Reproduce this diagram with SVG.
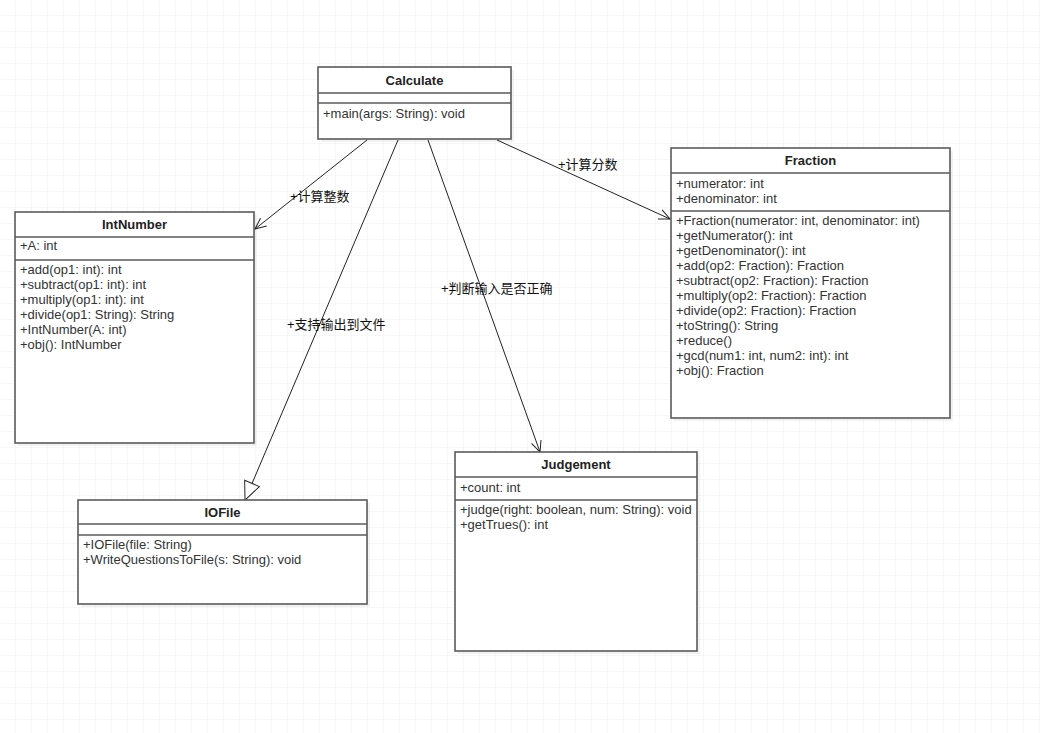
<svg xmlns="http://www.w3.org/2000/svg" width="1040" height="733" viewBox="0 0 1040 733">
<style>
.box{fill:#fff;stroke:#5a5a5a;stroke-width:1.6}
.sep{stroke:#5a5a5a;stroke-width:1.6}
.shadow{fill:#000;opacity:0.05}
.title{font-family:"Liberation Sans",Arial,sans-serif;font-size:13px;font-weight:bold;fill:#222;text-anchor:middle}
.t{font-family:"Liberation Sans",Arial,sans-serif;font-size:13px;fill:#333}
.lbl{font-family:"Liberation Sans","Noto Sans CJK SC",sans-serif;font-size:13px;fill:#111}
.conn{fill:none;stroke:#222;stroke-width:1}
</style>
<defs>
<pattern id="grid" width="16" height="16" patternUnits="userSpaceOnUse" x="0" y="0">
<path d="M16 0V16M0 16H16" fill="none" stroke="#efefef" stroke-width="1"/>
</pattern>
<marker id="open" markerWidth="14" markerHeight="14" refX="12" refY="7" orient="auto" markerUnits="userSpaceOnUse">
<path d="M1 2 L12 7 L1 12" fill="none" stroke="#222" stroke-width="1"/>
</marker>
<marker id="tri" markerWidth="22" markerHeight="20" refX="19" refY="10" orient="auto" markerUnits="userSpaceOnUse">
<path d="M1 2 L19 10 L1 18 Z" fill="#fff" stroke="#222" stroke-width="1"/>
</marker>
</defs>
<rect width="1040" height="733" fill="#fff"/>
<rect width="1040" height="733" fill="url(#grid)"/>

<g id="connectors">
<line class="conn" x1="367" y1="140" x2="255" y2="229" marker-end="url(#open)"/>
<line class="conn" x1="398" y1="140" x2="245" y2="500" marker-end="url(#tri)"/>
<line class="conn" x1="428" y1="140" x2="540" y2="452" marker-end="url(#open)"/>
<line class="conn" x1="497" y1="140" x2="670" y2="219" marker-end="url(#open)"/>
<text class="lbl" x="290" y="201">+计算整数</text>
<text class="lbl" x="287" y="329">+支持输出到文件</text>
<text class="lbl" x="441" y="293">+判断输入是否正确</text>
<text class="lbl" x="558" y="169">+计算分数</text>
</g>

<g id="Calculate">
<rect class="shadow" x="321" y="70" width="193" height="72"/>
<rect class="box" x="318" y="67" width="193" height="72"/>
<line class="sep" x1="318" y1="93" x2="511" y2="93"/>
<line class="sep" x1="318" y1="103" x2="511" y2="103"/>
<text class="title" x="414.5" y="85">Calculate</text>
<text class="t" x="323" y="118">+main(args: String): void</text>
</g>

<g id="IntNumber">
<rect class="shadow" x="18" y="215" width="239" height="231"/>
<rect class="box" x="15" y="212" width="239" height="231"/>
<line class="sep" x1="15" y1="237" x2="254" y2="237"/>
<line class="sep" x1="15" y1="260" x2="254" y2="260"/>
<text class="title" x="134.5" y="229">IntNumber</text>
<text class="t" x="20" y="250">+A: int</text>
<text class="t" x="20" y="274">+add(op1: int): int</text>
<text class="t" x="20" y="289">+subtract(op1: int): int</text>
<text class="t" x="20" y="304">+multiply(op1: int): int</text>
<text class="t" x="20" y="319">+divide(op1: String): String</text>
<text class="t" x="20" y="334">+IntNumber(A: int)</text>
<text class="t" x="20" y="349">+obj(): IntNumber</text>
</g>

<g id="Fraction">
<rect class="shadow" x="674" y="151" width="279" height="270"/>
<rect class="box" x="671" y="148" width="279" height="270"/>
<line class="sep" x1="671" y1="173" x2="950" y2="173"/>
<line class="sep" x1="671" y1="211" x2="950" y2="211"/>
<text class="title" x="810.5" y="165">Fraction</text>
<text class="t" x="676" y="188">+numerator: int</text>
<text class="t" x="676" y="203">+denominator: int</text>
<text class="t" x="676" y="225">+Fraction(numerator: int, denominator: int)</text>
<text class="t" x="676" y="240">+getNumerator(): int</text>
<text class="t" x="676" y="255">+getDenominator(): int</text>
<text class="t" x="676" y="270">+add(op2: Fraction): Fraction</text>
<text class="t" x="676" y="285">+subtract(op2: Fraction): Fraction</text>
<text class="t" x="676" y="300">+multiply(op2: Fraction): Fraction</text>
<text class="t" x="676" y="315">+divide(op2: Fraction): Fraction</text>
<text class="t" x="676" y="330">+toString(): String</text>
<text class="t" x="676" y="345">+reduce()</text>
<text class="t" x="676" y="360">+gcd(num1: int, num2: int): int</text>
<text class="t" x="676" y="375">+obj(): Fraction</text>
</g>

<g id="IOFile">
<rect class="shadow" x="81" y="503" width="289" height="104"/>
<rect class="box" x="78" y="500" width="289" height="104"/>
<line class="sep" x1="78" y1="524" x2="367" y2="524"/>
<line class="sep" x1="78" y1="535" x2="367" y2="535"/>
<text class="title" x="222.5" y="517">IOFile</text>
<text class="t" x="83" y="549">+IOFile(file: String)</text>
<text class="t" x="83" y="564">+WriteQuestionsToFile(s: String): void</text>
</g>

<g id="Judgement">
<rect class="shadow" x="458" y="455" width="242" height="199"/>
<rect class="box" x="455" y="452" width="242" height="199"/>
<line class="sep" x1="455" y1="477" x2="697" y2="477"/>
<line class="sep" x1="455" y1="500" x2="697" y2="500"/>
<text class="title" x="576" y="469">Judgement</text>
<text class="t" x="460" y="492">+count: int</text>
<text class="t" x="460" y="514">+judge(right: boolean, num: String): void</text>
<text class="t" x="460" y="529">+getTrues(): int</text>
</g>
</svg>
